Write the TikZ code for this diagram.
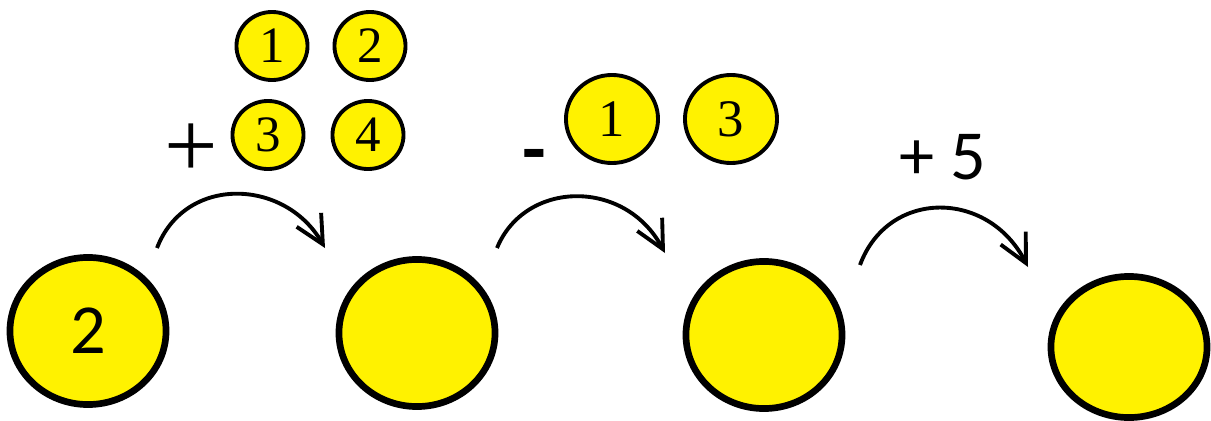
\documentclass[tikz,border=0pt]{standalone}
\usepackage{fontspec}
\setmainfont{Liberation Serif}
\newfontfamily\calibri{Carlito}
\usetikzlibrary{shapes.geometric,arrows.meta}
\definecolor{coinyellow}{RGB}{255,242,0}

\tikzset{
  bigcoin/.style={ellipse, draw, line width=1.9pt, fill=coinyellow, inner sep=0pt, minimum width=1.56cm, minimum height=1.47cm, font=\calibri\fontsize{20}{20}\selectfont},
  coin/.style={ellipse, draw, line width=1.1pt, fill=coinyellow, inner sep=0pt, minimum width=0.71cm, minimum height=0.68cm, font=\fontsize{14.5}{14.5}\selectfont},
  bigger/.style={minimum width=0.92cm, minimum height=0.88cm, font=\fontsize{15}{15}\selectfont},
  hop/.style={line width=1.1pt, -{Straight Barb[length=8pt,width=8pt]}}
}

\begin{document}
\begin{tikzpicture}[x=0.01cm, y=-0.01cm]
\useasboundingbox (0,0) rectangle (1211,421);

%% CIRCULOS GRANDES
\node[bigcoin] at (88,331) (Start) {2};
\node[bigcoin] at (417,333) (Step1) {};
\node[bigcoin] at (764,335) (Step2) {};
\node[bigcoin, minimum height=1.41cm] at (1129,347) (Step3) {};

%% PRIMER SALTO
\node[font=\fontsize{27}{27}\selectfont] at (191,151) (Plus1) {+};
\node[coin] at (272,46) (C1) {1};
\node[coin] at (370,46) (C2) {2};
\node[coin] at (268,135) (C3) {3};
\node[coin] at (368,135) (C4) {4};

\coordinate (s1) at (157,248);
\coordinate (e1) at (325,248);
\draw[hop] (s1) .. controls +(28,-73) and +(-40,-70) .. (e1);

%% SEGUNDO SALTO
\node[font=\calibri\bfseries\fontsize{22}{22}\selectfont, anchor=base] at (534,175) (Minus) {-};
\node[coin, bigger] at (612,119) (D1) {1};
\node[coin, bigger] at (731,119) (D3) {3};

\coordinate (s2) at (497,248);
\coordinate (e2) at (665,253);
\draw[hop] (s2) .. controls +(28,-68) and +(-40,-75) .. (e2);

%% TERCER SALTO
\node[font=\calibri\fontsize{20}{20}\selectfont] at (943,157) (Plus5) {+ 5};

\coordinate (s3) at (860,265);
\coordinate (e3) at (1028,267);
\draw[hop] (s3) .. controls +(28,-76) and +(-40,-78) .. (e3);

\end{tikzpicture}
\end{document}
